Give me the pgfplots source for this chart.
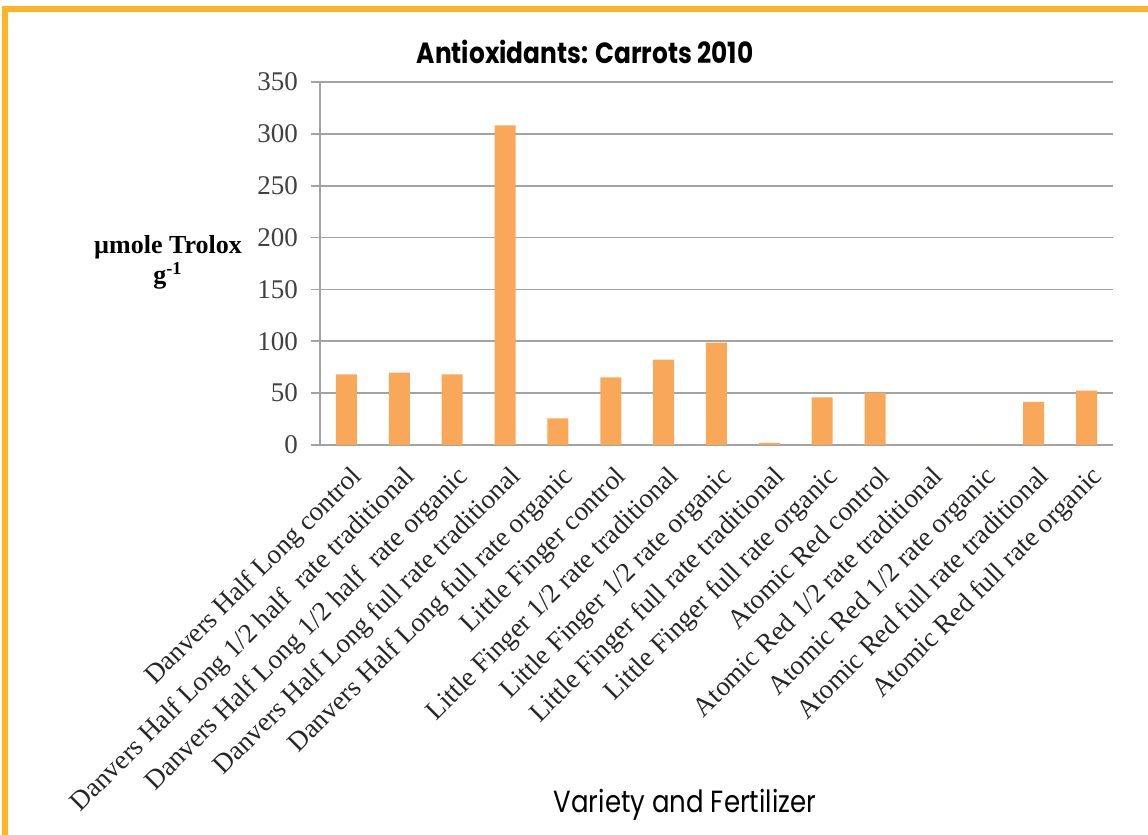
\documentclass[border=0pt]{standalone}
\usepackage{fontspec}
\usepackage{pgfplots}
\pgfplotsset{compat=1.18}
\setmainfont{Liberation Serif}
\newfontfamily\gothic[FakeStretch=0.85]{Poppins}
\definecolor{barfill}{HTML}{F9A85A}
\definecolor{framecol}{HTML}{FDB525}
\definecolor{gridcol}{HTML}{A3A3A3}
\definecolor{ticktext}{HTML}{404040}

\begin{document}
\begin{tikzpicture}
  \path[use as bounding box] (0,0) rectangle (574pt,417.5pt);
  % outer frame (only top and left edges fall inside the page)
  \begin{scope}
    \clip (0,0) rectangle (574pt,417.5pt);
    \draw[framecol, line width=3pt] (2.25pt,-10pt) -- (2.25pt,412.75pt) -- (590pt,412.75pt);
  \end{scope}

  \begin{axis}[
    at={(160pt,195pt)}, anchor=south west,
    scale only axis,
    width=396.5pt, height=181.5pt,
    xmin=-0.5, xmax=14.5,
    ymin=0, ymax=350,
    ytick={0,50,...,350},
    xtick={0,...,14},
    xticklabels={
      Danvers Half Long control,
      Danvers Half Long 1/2 half~ rate traditional,
      Danvers Half Long 1/2 half~ rate organic,
      Danvers Half Long full rate traditional,
      Danvers Half Long full rate organic,
      Little Finger control,
      Little Finger 1/2 rate traditional,
      Little Finger 1/2 rate organic,
      Little Finger full rate traditional,
      Little Finger full rate organic,
      Atomic Red control,
      Atomic Red 1/2 rate traditional,
      Atomic Red 1/2 rate organic,
      Atomic Red full rate traditional,
      Atomic Red full rate organic},
    x tick label style={rotate=45, anchor=north east, font=\fontsize{13.6}{13.6}\selectfont,
      text=black!85, inner sep=1pt, xshift=-1.5pt, yshift=-3.5pt},
    y tick label style={font=\fontsize{13.5}{13.5}\selectfont, text=ticktext, xshift=-3pt},
    /pgf/number format/assume math mode=true,
    axis x line*=bottom, axis y line*=left,
    axis line style={gridcol, line width=0.85pt, -},
    ymajorgrids, grid style={gridcol, line width=0.85pt},
    tick align=outside,
    major x tick style={draw=none},
    major y tick style={gridcol, line width=0.85pt},
    major tick length=4.5pt,
    extra x ticks={-0.5,0.5,...,14.5},
    extra x tick labels={},
    extra x tick style={grid=none, major tick length=4pt,
      major x tick style={gridcol, line width=0.85pt}},
    clip=false,
  ]
    \addplot[ybar, bar width=10.5pt, fill=barfill, draw=none]
      coordinates {
        (0,68.2) (1,69.8) (2,68.2) (3,308.2) (4,25.7)
        (5,65.3) (6,82.4) (7,98.8) (8,2.0) (9,46.0)
        (10,50.5) (11,0) (12,0) (13,41.5) (14,52.4)
      };
  \end{axis}

  % titles
  \node[font=\gothic\bfseries\fontsize{14.6}{14.6}\selectfont] at (292.5pt,391.5pt) {Antioxidants: Carrots 2010};
  \node[font=\gothic\fontsize{15.3}{15.3}\selectfont] at (342.5pt,15pt) {Variety and Fertilizer};
  \node[font=\bfseries\fontsize{13}{15}\selectfont, align=center] at (84pt,286.5pt)
    {µmole Trolox\\g\textsuperscript{-1}};
\end{tikzpicture}
\end{document}
